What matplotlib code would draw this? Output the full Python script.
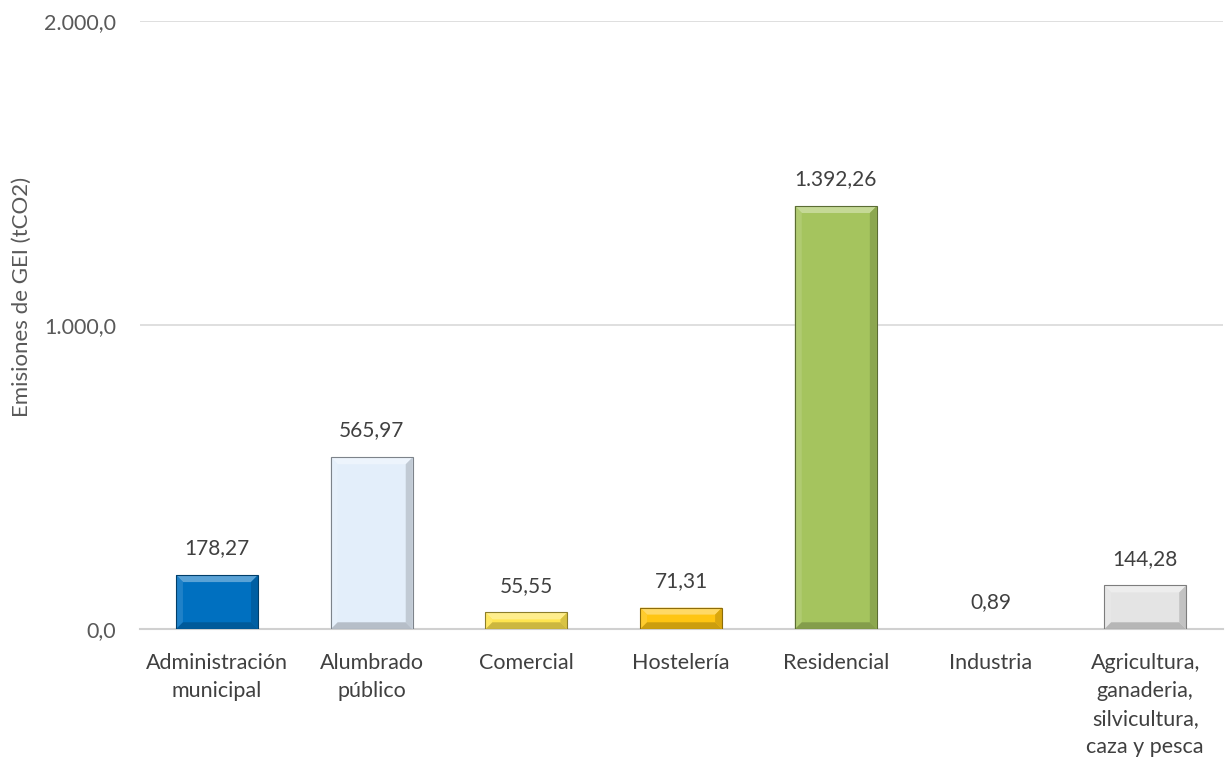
import matplotlib
matplotlib.use("Agg")
import matplotlib.pyplot as plt
from matplotlib.colors import to_rgb
from matplotlib.patches import Polygon
from matplotlib.ticker import FuncFormatter

categories = [
    "Administración\nmunicipal",
    "Alumbrado\npúblico",
    "Comercial",
    "Hostelería",
    "Residencial",
    "Industria",
    "Agricultura,\nganaderia,\nsilvicultura,\ncaza y pesca",
]
values = [178.27, 565.97, 55.55, 71.31, 1392.26, 0.89, 144.28]
colors = ["#0070C0", "#E3EEFA", "#FFE54F", "#FFC512", "#A5C45E", "#C55A11", "#E4E4E4"]


def es_num(v, decimals):
    s = f"{v:,.{decimals}f}"
    return s.replace(",", "X").replace(".", ",").replace("X", ".")


def shade(c, f):
    r, g, b = to_rgb(c)
    if f >= 0:
        return (r + (1 - r) * f, g + (1 - g) * f, b + (1 - b) * f)
    return (r * (1 + f), g * (1 + f), b * (1 + f))


plt.rcParams["font.family"] = ["Lato", "DejaVu Sans"]

fig = plt.figure(figsize=(12.25, 7.6), dpi=100)
ax = fig.add_axes([0.114, 0.172, 0.884, 0.8])

x = list(range(len(categories)))
bars = ax.bar(x, values, width=0.53, color=colors, edgecolor="none", zorder=3)

ax.set_ylim(0, 2000)
ax.set_xlim(-0.5, len(categories) - 0.5)

# bevel look, roughly 7 px wide
dx = 0.045
dy = 23
for b, c in zip(bars, colors):
    x0, w, h = b.get_x(), b.get_width(), b.get_height()
    if h < 2 * dy:
        if h < 5:
            b.set_visible(False)
            continue
        d = h / 3
    else:
        d = dy
    x1 = x0 + w
    faces = [
        ([(x0, h), (x1, h), (x1 - dx, h - d), (x0 + dx, h - d)], shade(c, 0.35)),
        ([(x0, 0), (x0, h), (x0 + dx, h - d), (x0 + dx, d)], shade(c, 0.12)),
        ([(x1, 0), (x1, h), (x1 - dx, h - d), (x1 - dx, d)], shade(c, -0.15)),
        ([(x0, 0), (x1, 0), (x1 - dx, d), (x0 + dx, d)], shade(c, -0.2)),
    ]
    for pts, fc in faces:
        ax.add_patch(Polygon(pts, closed=True, facecolor=fc, edgecolor="none", zorder=4))
    ax.add_patch(Polygon([(x0, 0), (x0, h), (x1, h), (x1, 0)], closed=True,
                         facecolor="none", edgecolor=shade(c, -0.45), linewidth=0.8, zorder=5))

for b, v in zip(bars, values):
    ax.annotate(
        es_num(v, 2),
        (b.get_x() + b.get_width() / 2, v),
        xytext=(0, 12),
        textcoords="offset points",
        ha="center",
        va="bottom",
        fontsize=15,
        color="#404040",
    )

ax.set_yticks([0, 1000, 2000])
ax.yaxis.set_major_formatter(FuncFormatter(lambda v, p: es_num(v, 1)))
ax.set_xticks(x)
ax.set_xticklabels(categories, fontsize=15.5, color="#404040", linespacing=1.5)
ax.tick_params(axis="y", labelsize=15.5, labelcolor="#595959", length=0, pad=17)
ax.tick_params(axis="x", length=0, pad=17)
ax.grid(axis="y", color="#D9D9D9", linewidth=1.2, zorder=0)
for s in ["top", "right", "left"]:
    ax.spines[s].set_visible(False)
ax.spines["bottom"].set_color("#D0D0D0")
ax.spines["bottom"].set_linewidth(1.5)
ax.set_ylabel("Emisiones de GEI (tCO2)", fontsize=16, color="#595959")
ax.yaxis.set_label_coords(-0.1, 0.546)

fig.savefig("out.png", dpi=100)
